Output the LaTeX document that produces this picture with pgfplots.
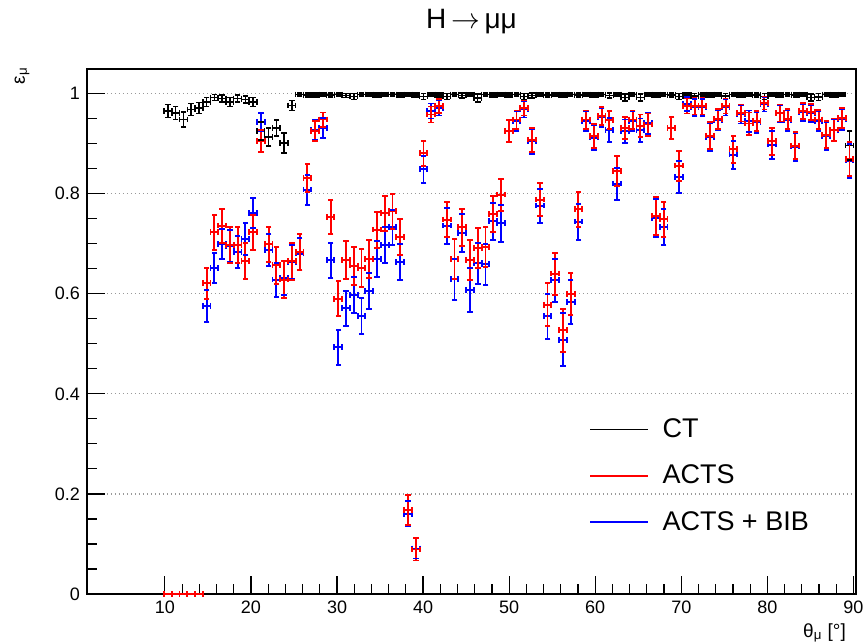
\documentclass[border=0pt]{standalone}
\usepackage{fontspec}
\setmainfont{Liberation Sans}
\usepackage{pgfplots}
\usepackage{pgfplotstable}
\pgfplotsset{compat=1.18}
\definecolor{rootred}{RGB}{255,0,0}
\definecolor{rootblue}{RGB}{0,0,255}

% columns: bin centre (deg), efficiency, error
\pgfplotstableread{
x y e
10.35 0.965 0.013
11.25 0.961 0.013
12.15 0.948 0.015
13.05 0.968 0.012
13.95 0.971 0.011
14.85 0.983 0.009
15.75 0.992 0.006
16.65 0.990 0.007
17.55 0.983 0.009
18.45 0.990 0.007
19.35 0.988 0.007
20.25 0.983 0.009
21.15 0.925 0.018
22.05 0.913 0.018
22.95 0.931 0.016
23.85 0.901 0.020
24.75 0.976 0.010
25.65 0.998 0.003
26.55 0.997 0.004
27.45 0.997 0.004
28.35 0.998 0.003
29.25 0.997 0.004
30.15 0.998 0.003
31.05 0.996 0.004
31.95 0.994 0.006
32.85 0.998 0.003
33.75 0.998 0.003
34.65 0.997 0.004
35.55 0.998 0.003
36.45 0.998 0.003
37.35 0.997 0.004
38.25 0.998 0.003
39.15 0.997 0.004
40.05 0.994 0.006
40.95 0.998 0.003
41.85 0.997 0.004
42.75 0.994 0.006
43.65 0.998 0.003
44.55 0.996 0.005
45.45 0.998 0.003
46.35 0.991 0.008
47.25 0.998 0.003
48.15 0.997 0.004
49.05 0.998 0.003
49.95 0.997 0.004
50.85 0.998 0.003
51.75 0.994 0.006
52.65 0.996 0.005
53.55 0.998 0.003
54.45 0.997 0.004
55.35 0.998 0.003
56.25 0.997 0.004
57.15 0.998 0.003
58.05 0.997 0.004
58.95 0.998 0.003
59.85 0.997 0.004
60.75 0.998 0.003
61.65 0.996 0.005
62.55 0.998 0.003
63.45 0.992 0.007
64.35 0.998 0.003
65.25 0.992 0.007
66.15 0.998 0.003
67.05 0.997 0.004
67.95 0.998 0.003
68.85 0.997 0.004
69.75 0.994 0.006
70.65 0.997 0.004
71.55 0.995 0.005
72.45 0.998 0.003
73.35 0.997 0.004
74.25 0.998 0.003
75.15 0.995 0.005
76.05 0.998 0.003
76.95 0.997 0.004
77.85 0.998 0.003
78.75 0.997 0.004
79.65 0.994 0.006
80.55 0.998 0.003
81.45 0.997 0.004
82.35 0.998 0.003
83.25 0.997 0.004
84.15 0.998 0.003
85.05 0.992 0.007
85.95 0.993 0.007
86.85 0.998 0.003
87.75 0.997 0.004
88.65 0.998 0.003
89.55 0.896 0.029
}\ct

\pgfplotstableread{
x y e
10.35 0 0
11.25 0 0
12.15 0 0
13.05 0 0
13.95 0 0
14.85 0.621 0.031
15.75 0.723 0.035
16.65 0.736 0.034
17.55 0.697 0.036
18.45 0.697 0.036
19.35 0.665 0.036
20.25 0.723 0.035
21.15 0.905 0.022
22.05 0.699 0.035
22.95 0.657 0.037
23.85 0.628 0.037
24.75 0.665 0.037
25.65 0.683 0.036
26.55 0.831 0.028
27.45 0.925 0.020
28.35 0.948 0.014
29.25 0.753 0.034
30.15 0.590 0.035
31.05 0.667 0.038
31.95 0.656 0.038
32.85 0.651 0.038
33.75 0.669 0.038
34.65 0.728 0.036
35.55 0.761 0.035
36.45 0.765 0.035
37.35 0.713 0.036
38.25 0.168 0.030
39.15 0.089 0.022
40.05 0.881 0.025
40.95 0.958 0.016
41.85 0.975 0.014
42.75 0.748 0.035
43.65 0.669 0.040
44.55 0.733 0.037
45.45 0.667 0.040
46.35 0.691 0.040
47.25 0.693 0.040
48.15 0.759 0.036
49.05 0.798 0.032
49.95 0.925 0.022
50.85 0.948 0.018
51.75 0.971 0.015
52.65 0.908 0.024
53.55 0.788 0.033
54.45 0.578 0.043
55.35 0.640 0.042
56.25 0.527 0.043
57.15 0.600 0.042
58.05 0.769 0.035
58.95 0.948 0.018
59.85 0.915 0.024
60.75 0.955 0.018
61.65 0.947 0.018
62.55 0.845 0.030
63.45 0.931 0.022
64.35 0.948 0.018
65.25 0.936 0.022
66.15 0.938 0.022
67.05 0.756 0.038
67.95 0.749 0.035
68.85 0.931 0.022
69.75 0.856 0.030
70.65 0.975 0.015
71.55 0.975 0.017
72.45 0.975 0.017
73.35 0.916 0.027
74.25 0.949 0.020
75.15 0.975 0.015
76.05 0.889 0.027
76.95 0.961 0.017
77.85 0.940 0.022
78.75 0.945 0.020
79.65 0.981 0.013
80.55 0.905 0.027
81.45 0.961 0.017
82.35 0.949 0.020
83.25 0.896 0.027
84.15 0.965 0.016
85.05 0.963 0.016
85.95 0.948 0.019
86.85 0.918 0.027
87.75 0.928 0.022
88.65 0.951 0.020
89.55 0.869 0.034
}\acts

\pgfplotstableread{
x y e
10.35 0 0
11.25 0 0
12.15 0 0
13.05 0 0
13.95 0 0
14.85 0.576 0.032
15.75 0.651 0.030
16.65 0.699 0.030
17.55 0.695 0.032
18.45 0.683 0.032
19.35 0.709 0.032
20.25 0.761 0.030
21.15 0.943 0.018
22.05 0.687 0.032
22.95 0.628 0.034
23.85 0.631 0.034
24.75 0.663 0.034
25.65 0.680 0.032
26.55 0.808 0.030
27.45 0.928 0.020
28.35 0.931 0.020
29.25 0.667 0.035
30.15 0.493 0.035
31.05 0.571 0.035
31.95 0.598 0.036
32.85 0.555 0.036
33.75 0.605 0.036
34.65 0.669 0.036
35.55 0.697 0.036
36.45 0.733 0.035
37.35 0.663 0.036
38.25 0.160 0.025
39.15 0.091 0.020
40.05 0.849 0.027
40.95 0.965 0.015
41.85 0.971 0.015
42.75 0.736 0.036
43.65 0.629 0.041
44.55 0.721 0.038
45.45 0.607 0.044
46.35 0.661 0.041
47.25 0.659 0.041
48.15 0.745 0.037
49.05 0.741 0.037
49.95 0.925 0.022
50.85 0.945 0.019
51.75 0.968 0.016
52.65 0.905 0.025
53.55 0.776 0.034
54.45 0.555 0.045
55.35 0.627 0.043
56.25 0.508 0.053
57.15 0.583 0.044
58.05 0.744 0.036
58.95 0.945 0.019
59.85 0.912 0.025
60.75 0.952 0.019
61.65 0.927 0.024
62.55 0.820 0.032
63.45 0.925 0.023
64.35 0.945 0.019
65.25 0.927 0.023
66.15 0.941 0.021
67.05 0.751 0.038
67.95 0.733 0.036
68.85 0.931 0.022
69.75 0.833 0.032
70.65 0.979 0.014
71.55 0.972 0.017
72.45 0.972 0.017
73.35 0.913 0.027
74.25 0.947 0.020
75.15 0.972 0.016
76.05 0.878 0.028
76.95 0.958 0.018
77.85 0.945 0.021
78.75 0.942 0.021
79.65 0.978 0.014
80.55 0.898 0.028
81.45 0.960 0.017
82.35 0.946 0.020
83.25 0.894 0.028
84.15 0.962 0.017
85.05 0.960 0.017
85.95 0.945 0.020
86.85 0.915 0.027
87.75 0.927 0.022
88.65 0.948 0.020
89.55 0.866 0.034
}\actsbib

% bars of half width 0.45 deg and +-e, with caps, drawn as plain segments
\newcommand{\errplot}[3]{%
  \addplot[draw=#2, line width=#3, mark=none, forget plot,
      quiver={u=0, v=2*\thisrow{e}}]
      table[x=x, y expr=\thisrow{y}-\thisrow{e}] {#1};
  \addplot[draw=#2, line width=#3, mark=none, forget plot,
      quiver={u=0.9, v=0}]
      table[x expr=\thisrow{x}-0.45, y=y] {#1};
  \addplot[only marks, mark=-, mark size=1.4pt, mark options={draw=#2, line width=#3}, forget plot]
      table[x=x, y expr=\thisrow{y}+\thisrow{e}] {#1};
  \addplot[only marks, mark=-, mark size=1.4pt, mark options={draw=#2, line width=#3}, forget plot]
      table[x=x, y expr=\thisrow{y}-\thisrow{e}] {#1};
  \addplot[only marks, mark=|, mark size=1.4pt, mark options={draw=#2, line width=#3}, forget plot]
      table[x expr=\thisrow{x}+0.45, y=y] {#1};
  \addplot[only marks, mark=|, mark size=1.4pt, mark options={draw=#2, line width=#3}, forget plot]
      table[x expr=\thisrow{x}-0.45, y=y] {#1};
}

\begin{document}
\begin{tikzpicture}
\begin{axis}[
    scale only axis,
    width=384.5pt, height=262.5pt,
    at={(0,0)}, anchor=south west,
    xmin=0.95, xmax=90.3,
    ymin=0, ymax=1.049,
    xtick={10,20,...,90},
    ytick={0,0.2,0.4,0.6,0.8,1},
    yticklabels={0,0.2,0.4,0.6,0.8,1},
    minor x tick num=4,
    minor y tick num=3,
    tick align=inside,
    xtick pos=left, ytick pos=left,
    major tick length=9pt, minor tick length=5pt,
    tick style={draw=black, line width=0.6pt},
    axis line style={line width=0.6pt},
    ymajorgrids=true,
    grid style={draw=gray!80, line width=0.6pt, dash pattern=on 0.6pt off 1.4pt},
    /pgf/number format/assume math mode=true,
    tick label style={font=\fontsize{9}{10}\selectfont},
    clip=false,
    title={H\,$\rightarrow$\,μμ},
    title style={font=\fontsize{14}{16}\selectfont, at={(axis description cs:0.5,1.055)}, anchor=base},
    xlabel={θ\textsubscript{μ} [°]},
    xlabel style={font=\fontsize{9.5}{11}\selectfont, at={(axis description cs:0.996,-0.044)}, anchor=north east},
    ylabel={ε\textsubscript{μ}},
    ylabel style={font=\fontsize{9.5}{11}\selectfont, at={(axis description cs:-0.0845,1.017)}, anchor=east},
    legend image code/.code={\draw[#1, line width=0.7pt] (0pt,0pt) -- (29pt,0pt); \path (34pt,0pt);},
    legend style={at={(axis description cs:0.645,0.35)}, anchor=north west,
        draw=none, fill=none, font=\fontsize{13.5}{16}\selectfont,
        row sep=8.2pt, cells={anchor=west}},
]
\addlegendimage{draw=black}
\addlegendentry{CT}
\addlegendimage{draw=rootred}
\addlegendentry{ACTS}
\addlegendimage{draw=rootblue}
\addlegendentry{ACTS + BIB}

\errplot{\ct}{black}{0.75pt}
\errplot{\actsbib}{rootblue}{0.95pt}
\errplot{\acts}{rootred}{0.95pt}
\end{axis}
\pgfresetboundingbox
\path (-43.5pt,-24.5pt) rectangle (388.5pt,297pt);
\end{tikzpicture}
\end{document}
